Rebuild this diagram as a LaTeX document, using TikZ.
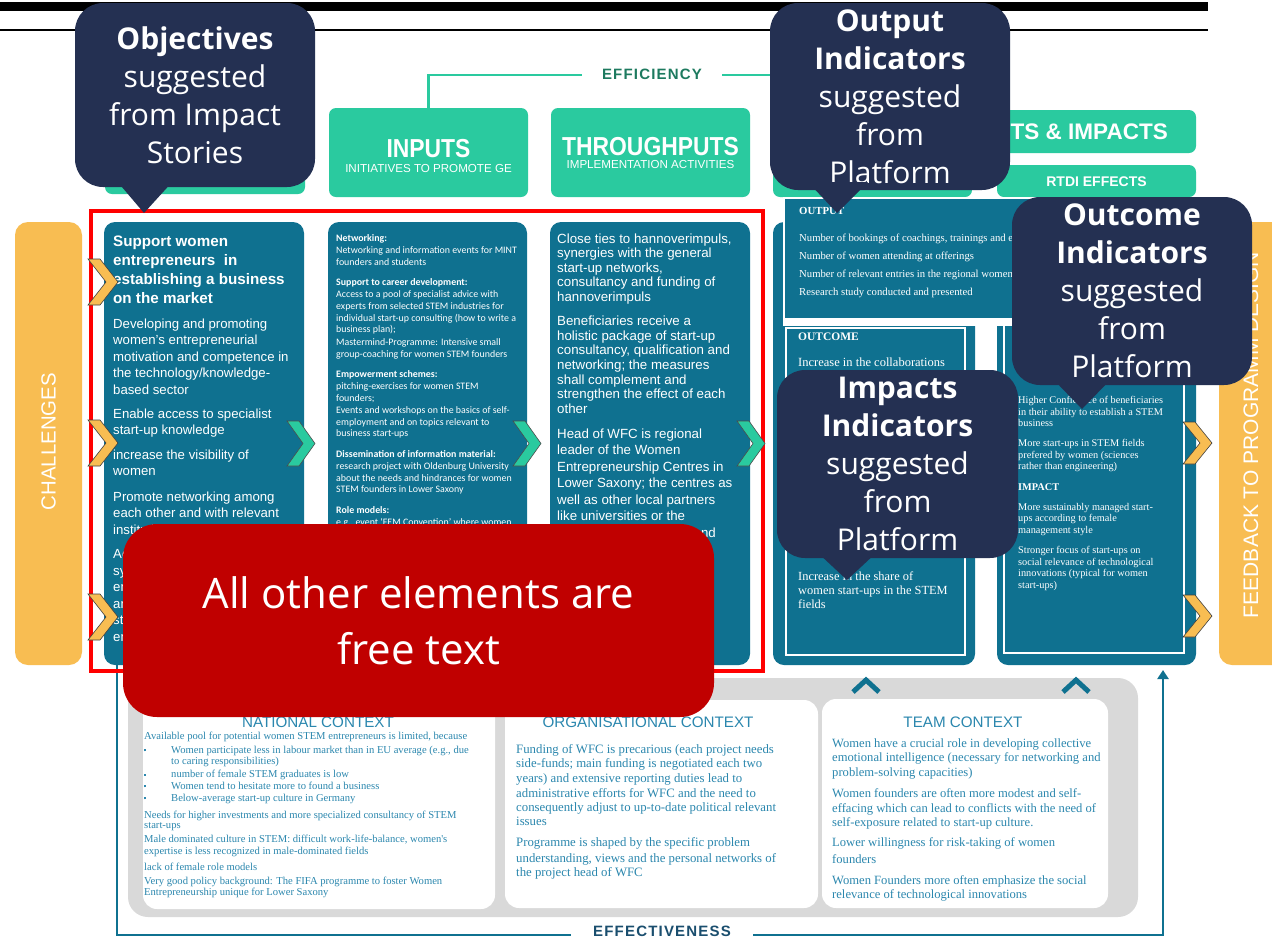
\documentclass[tikz,border=0pt]{standalone}
\usepackage{fontspec}
\setmainfont{Liberation Sans}
\newfontfamily\bubblefont{Open Sans}
\newfontfamily\calibrifont{Carlito}
\newfontfamily\cambriafont{Liberation Serif}
\newfontfamily\narrowfont[FakeStretch=0.88]{Liberation Sans}
\newfontfamily\spacedfont[LetterSpace=8]{Liberation Sans}
\usetikzlibrary{arrows.meta}

\definecolor{bubblenavy}{HTML}{243052}
\definecolor{headgreen}{HTML}{2ACA9F}
\definecolor{colblue}{HTML}{0F7190}
\definecolor{sideorange}{HTML}{F8BD52}
\definecolor{freered}{HTML}{C00000}
\definecolor{framered}{HTML}{FF0000}
\definecolor{basegray}{HTML}{D9D9D9}
\definecolor{ctxtext}{HTML}{2B87AE}
\definecolor{effgreen}{HTML}{1D7A5F}
\definecolor{effblue}{HTML}{1A4E6E}

\newcommand{\sqbullet}{\makebox[27pt][l]{\rule[2pt]{2pt}{2pt}}}

\begin{document}
\begin{tikzpicture}[x=1pt, y=-1pt,
    headbox/.style={fill=headgreen, rounded corners=7pt, inner sep=0pt},
    colbox/.style={fill=colblue, rounded corners=11pt, inner sep=0pt},
    sidebox/.style={fill=sideorange, rounded corners=13pt, inner sep=0pt},
    ctxbox/.style={fill=white, rounded corners=14pt, inner sep=0pt},
    headtitle/.style={anchor=base, inner sep=0pt, text=white, font=\narrowfont\bfseries\fontsize{26}{30}\selectfont},
    headsub/.style={anchor=base, inner sep=0pt, text=white, font=\fontsize{11.6}{14}\selectfont},
    ctxtitle/.style={anchor=base, inner sep=0pt, text=ctxtext, font=\fontsize{15.2}{18}\selectfont},
    wtext/.style={anchor=north west, align=left, inner sep=0pt, text=white},
    ctext/.style={anchor=north west, align=left, inner sep=0pt, text=ctxtext},
    bubble/.style={fill=bubblenavy, rounded corners=28pt, text=white, align=center, inner sep=0pt,
        font=\bubblefont\fontsize{30}{38}\selectfont},
    chevorange/.style={fill=sideorange, draw=black!75, line width=0.6pt},
    chevgreen/.style={fill=headgreen, draw=black!70, line width=0.6pt}]

    \fill[white] (0,0) rectangle (1272,938);
    \useasboundingbox (0,0) rectangle (1272,938);

    % top rules
    \fill[black] (0,2) rectangle (1208,11);
    \draw[black, line width=1.2pt] (0,30) -- (1208,30);

    % headers
    \node[headbox, minimum width=200, minimum height=86] (objhead) at (205,151) {};
    \node[headbox, minimum width=199, minimum height=89] (inputhead) at (428.5,152.5) {};
    \node[headbox, minimum width=199, minimum height=89] (throughhead) at (650.5,152.5) {};
    \node[headbox, minimum width=199, minimum height=32] (outhead) at (872.5,181) {};
    \node[headbox, minimum width=423, minimum height=43] (impacthead) at (984.5,131.5) {};
    \node[headbox, minimum width=199, minimum height=32] (rtdihead) at (1096.5,181) {};

    \node[headtitle] (inputtitle) at (428.5,157) {INPUTS};
    \node[headsub] (inputsub) at (428.5,172) {INITIATIVES TO PROMOTE GE};
    \node[headtitle] (throughtitle) at (650.5,155) {THROUGHPUTS};
    \node[headsub] (throughsub) at (650.5,168) {IMPLEMENTATION ACTIVITIES};
    \node[anchor=base east, inner sep=0pt, text=white, font=\bfseries\fontsize{22.5}{27}\selectfont] (impacttitle) at (1168,139) {EFFECTS \& IMPACTS};
    \node[anchor=base, inner sep=0pt, text=white, font=\bfseries\fontsize{14}{17}\selectfont] (rtdititle) at (1096.5,186) {RTDI EFFECTS};

    % efficiency
    \coordinate (effleft) at (428.5,75);
    \coordinate (effright) at (984.5,75);
    \draw[headgreen, line width=2.5pt] (inputhead.north) -- (effleft) -- (effright) -- (impacthead.north);
    \node[fill=white, inner xsep=20pt, inner ysep=2pt, text=effgreen, font=\spacedfont\bfseries\fontsize{15}{17}\selectfont] (efficiency) at (652,74) {EFFICIENCY};

    % columns
    \node[sidebox, minimum width=67, minimum height=443] (challenges) at (48.5,443.5) {};
    \node[rotate=90, inner sep=0pt, text=white, font=\fontsize{20.4}{24}\selectfont] (challtext) at (48.5,441.5) {CHALLENGES};
    \node[colbox, minimum width=200, minimum height=443] (objcol) at (204,443.5) {};
    \node[colbox, minimum width=199, minimum height=443] (inputcol) at (427.5,443.5) {};
    \node[colbox, minimum width=200, minimum height=443] (throughcol) at (650,443.5) {};
    \node[colbox, minimum width=202, minimum height=443] (outcol) at (874,443.5) {};
    \node[colbox, minimum width=199, minimum height=443] (rtdicol) at (1096.5,443.5) {};
    \node[sidebox, minimum width=80, minimum height=443] (feedback) at (1259,443.5) {};
    \node[rotate=90, inner sep=0pt, text=white, font=\fontsize{21}{25}\selectfont] (feedtext) at (1251,435) {FEEDBACK TO PROGRAMM DESIGN};

    % objectives text
    \node[wtext, font=\bfseries\fontsize{15.2}{19}\selectfont] (objtitle) at (113,235.5) {Support women\\entrepreneurs \ in\\establishing a business\\on the market};
    \node[wtext, font=\fontsize{13.2}{16.5}\selectfont] (objtext) at (113,318.4) {Developing and promoting\\women's entrepreneurial\\motivation and competence in\\the technology/knowledge-\\based sector\\[7.5pt]Enable access to specialist\\start-up knowledge\\[8pt]increase the visibility of\\women\\[9pt]Promote networking among\\each other and with relevant\\institutions\\[8pt]Ac\\sy\\en\\an\\st\\en};

    % inputs text
    \node[wtext, font=\calibrifont\fontsize{9.9}{11.8}\selectfont] (inputtext) at (336,234.4) {\textbf{Networking:}\\Networking and information events for MINT\\founders and students\\[8.7pt]\textbf{Support to career development:}\\Access to a pool of specialist advice with\\experts from selected STEM industries for\\individual start-up consulting (how to write a\\business plan);\\[1pt]Mastermind-Programme: Intensive small\\group-coaching for women STEM founders\\[8.7pt]\textbf{Empowerment schemes:}\\pitching-exercises for women STEM\\founders;\\Events and workshops on the basics of self-\\employment and on topics relevant to\\business start-ups\\[8.7pt]\textbf{Dissemination of information material:}\\research project with Oldenburg University\\about the needs and hindrances for  women\\STEM founders in Lower Saxony\\[8.7pt]\textbf{Role models:}\\e.g., event ‘FEM Convention’ where women};

    % throughputs text
    \node[wtext, font=\fontsize{13.3}{14.6}\selectfont] (throughtext) at (557,233.3) {Close ties to hannoverimpuls,\\synergies with the general\\start-up networks,\\consultancy and funding of\\hannoverimpuls\\[9.5pt]Beneficiaries receive a\\holistic package of start-up\\consultancy, qualification and\\networking; the measures\\shall complement and\\strengthen the effect of each\\other};
    \node[wtext, font=\fontsize{13.3}{16.5}\selectfont] (throughlast) at (557,428.3) {Head of WFC is regional\\leader of the Women\\Entrepreneurship Centres in\\Lower Saxony; the centres as\\well as other local partners\\like universities or the};
    \node[anchor=base east, inner sep=0pt, text=white, font=\fontsize{13.3}{16.5}\selectfont] (throughend) at (716,537) {nd};

    % outputs and outcomes
    \node[fill=colblue, draw=white, line width=2.5pt, minimum width=402, minimum height=122, inner sep=0pt] (outputbox) at (985,259) {};
    \fill[white] (783,318) rectangle (1188,326);
    \node[draw=white, line width=1.5pt, minimum width=179, minimum height=327, inner sep=0pt] (outcomebox) at (875.5,491.5) {};
    \node[draw=white, line width=1.5pt, minimum width=180, minimum height=328, inner sep=0pt] (rtdibox) at (1094,489) {};

    \node[wtext, font=\cambriafont\bfseries\fontsize{10.8}{13}\selectfont] (outputlabel) at (799,206.8) {OUTPUT};
    \node[wtext, font=\cambriafont\fontsize{10.7}{18}\selectfont] (outputtext) at (799,233.6) {Number of bookings of coachings, trainings and events\\Number of women attending at offerings\\Number of relevant entries in the regional women\\Research study conducted and presented};
    \node[wtext, font=\cambriafont\bfseries\fontsize{11.5}{13}\selectfont] (outcomelabel) at (798,332.3) {OUTCOME};
    \node[wtext, font=\cambriafont\fontsize{12.5}{14}\selectfont] (outcometop) at (798,357.4) {Increase in the collaborations};
    \node[wtext, font=\cambriafont\fontsize{12.4}{14}\selectfont] (outcomebottom) at (798,571.5) {Increase in the share of\\women start-ups in the STEM\\fields};
    \node[wtext, font=\cambriafont\fontsize{10.3}{11.6}\selectfont] (rtditext) at (1018,396) {Higher Confidence of beneficiaries\\in their ability to establish a STEM\\business\\[8.5pt]More start-ups in STEM fields\\prefered by women (sciences\\rather than engineering)\\[8.5pt]\textbf{IMPACT}\\[8.5pt]More sustainably managed start-\\ups according to female\\management style\\[8.5pt]Stronger focus of start-ups on\\social relevance of technological\\innovations (typical for women\\start-ups)};

    % contexts
    \node[fill=basegray, rounded corners=20pt, minimum width=1010, minimum height=239, inner sep=0pt] (contextbase) at (633,797.5) {};
    \node[ctxbox, minimum width=352, minimum height=209] (national) at (319,804.5) {};
    \node[ctxbox, minimum width=313, minimum height=208] (organisational) at (661.5,804) {};
    \node[ctxbox, minimum width=286, minimum height=209] (team) at (965,803.5) {};

    \node[ctxtitle] (nattitle) at (318,727) {NATIONAL CONTEXT};
    \node[ctxtitle] (orgtitle) at (648,727) {ORGANISATIONAL CONTEXT};
    \node[ctxtitle] (teamtitle) at (963,727) {TEAM CONTEXT};

    \node[ctext, font=\cambriafont\fontsize{10.6}{12}\selectfont] (nattext) at (144,731.7) {Available pool for potential women STEM entrepreneurs is limited, because\\[2pt]\sqbullet Women participate less in labour market than in EU average (e.g., due\\[-0.5pt]\hspace*{27pt}to caring responsibilities)\\[1pt]\sqbullet number of female STEM graduates is low\\[-0.5pt]\sqbullet Women tend to hesitate more to found a business\\\sqbullet Below-average start-up culture in Germany\\[5pt]Needs for higher investments and more specialized consultancy of STEM\\[-1.5pt]start-ups\\[2pt]Male dominated culture in STEM: difficult work-life-balance, women's\\expertise is less recognized in male-dominated fields\\[4pt]lack of female role models\\[2pt]Very good policy background: The FIFA programme to foster Women\\[-1pt]Entrepreneurship unique for Lower Saxony};
    \node[ctext, font=\cambriafont\fontsize{12.8}{14.1}\selectfont] (orgtext) at (516,744) {Funding of WFC is precarious (each project needs\\side-funds; main funding is negotiated each two\\[1.5pt]years) and extensive reporting duties lead to\\administrative efforts for WFC and the need to\\consequently adjust to up-to-date political relevant\\issues\\[7.5pt]Programme is shaped by the specific problem\\[1.7pt]understanding, views and the personal networks of\\the project head of WFC};
    \node[ctext, font=\cambriafont\fontsize{12.6}{14.7}\selectfont] (teamtext) at (832,738.3) {Women have a crucial role in developing collective\\emotional intelligence (necessary for networking and\\problem-solving capacities)\\[6pt]Women founders are often more modest and self-\\effacing which can lead to conflicts with the need of\\self-exposure related to start-up culture.\\[5.5pt]Lower willingness for risk-taking of women\\[1.5pt]founders\\[7pt]Women Founders more often emphasize the social\\[-1.5pt]relevance of technological innovations};

    \foreach \cx in {866,1076}
        \draw[colblue, line width=5pt] ({\cx-13},692) -- (\cx,680) -- ({\cx+13},692);

    % effectiveness loop
    \coordinate (loopstart) at (117,665);
    \coordinate (loopleft) at (117,935);
    \coordinate (loopright) at (1163,935);
    \coordinate (loopend) at (1163,670);
    \draw[colblue, line width=2.8pt, -{Triangle[length=9pt, width=11pt]}] (loopstart) -- (loopleft) -- (loopright) -- (loopend);
    \node[fill=white, inner xsep=22pt, inner ysep=1pt, text=effblue, font=\spacedfont\bfseries\fontsize{15}{17}\selectfont] (effectiveness) at (662,931) {EFFECTIVENESS};

    % frame
    \draw[framered, line width=4pt] (91,211) rectangle (763,671);

    % chevrons
    \foreach \cy in {282,443,617}
        \filldraw[chevorange] (88,{\cy-23}) -- (100,{\cy-23}) -- (118,\cy) -- (100,{\cy+23}) -- (88,{\cy+23}) -- (106,\cy) -- cycle;
    \foreach \cx in {287,513,737}
        \filldraw[chevgreen] (\cx,421) -- ({\cx+12},421) -- ({\cx+28},443.5) -- ({\cx+12},466) -- (\cx,466) -- ({\cx+16},443.5) -- cycle;
    \foreach \cy in {443,616}
        \filldraw[chevorange] (1183,{\cy-21}) -- (1195,{\cy-21}) -- (1212,\cy) -- (1195,{\cy+21}) -- (1183,{\cy+21}) -- (1200,\cy) -- cycle;

    % callouts
    \node[bubble, minimum width=240, minimum height=184] (objbubble) at (195,95) {\textbf{Objectives}\\suggested\\from Impact\\Stories};
    \fill[bubblenavy] (116,180) -- (144,213) -- (174,180) -- cycle;
    \node[bubble, minimum width=240, minimum height=187] (outbubble) at (890,96.5) {\textbf{Output}\\\textbf{Indicators}\\suggested\\from\\Platform};
    \fill[bubblenavy] (808,182) -- (837,213) -- (868,182) -- cycle;
    \node[bubble, minimum width=240, minimum height=188] (outcomebubble) at (1132,291) {\textbf{Outcome}\\\textbf{Indicators}\\suggested\\from\\Platform};
    \fill[bubblenavy] (1052,378) -- (1082,409) -- (1112,378) -- cycle;
    \node[bubble, minimum width=241, minimum height=188] (impactbubble) at (897.5,464) {\textbf{Impacts}\\\textbf{Indicators}\\suggested\\from\\Platform};
    \fill[bubblenavy] (817,552) -- (847,580) -- (877,552) -- cycle;

    \node[fill=freered, rounded corners=34pt, minimum width=591, minimum height=193, inner sep=0pt, text=white, align=center, font=\bubblefont\fontsize{42}{56}\selectfont] (freebubble) at (418.5,620.5) {All other elements are\\free text};

\end{tikzpicture}
\end{document}
